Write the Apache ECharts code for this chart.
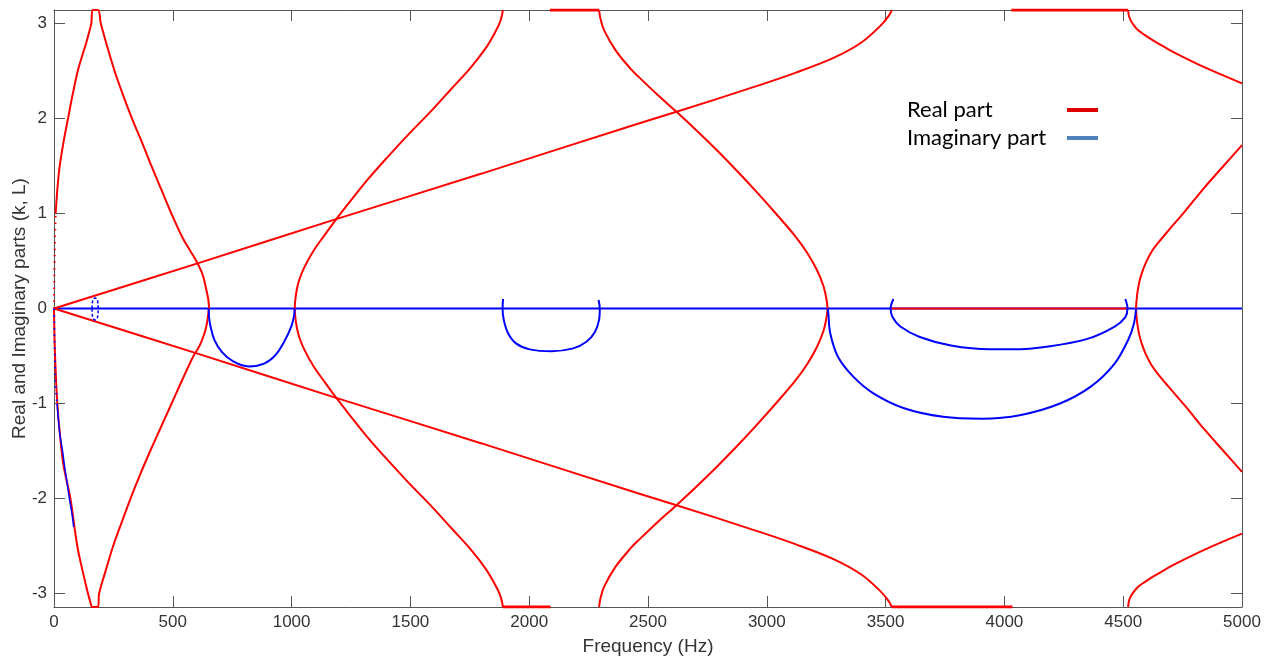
<!DOCTYPE html>
<html>
<head>
<meta charset="utf-8">
<script src="https://cdn.jsdelivr.net/npm/echarts@6/dist/echarts.min.js"></script>
<style>
  html, body { margin: 0; padding: 0; background: #fff; }
  #chart { width: 1274px; height: 657px; }
</style>
</head>
<body>
<div id="chart"></div>
<script>
// Dispersion of the periodic line: real and imaginary parts of k·L versus frequency.
const PI = Math.PI;

// Tick labels
const xTicks = [0, 500, 1000, 1500, 2000, 2500, 3000, 3500, 4000, 4500, 5000];
const yTicks = [-3, -2, -1, 0, 1, 2, 3];

// ---- Real part branches (frequency in Hz, value in rad) ----
// first band, positive branch: sparse start near 0 Hz, then rise, edge at +pi, fall back to 0
const reA1HeadFreq = [0, 1, 3, 7];
const reA1HeadVal  = [0, 0.3, 0.6, 1.0];
const reA1Freq = [7, 14, 24, 40, 59, 80, 100, 120, 136, 148, 157, 163, 185, 197, 225, 255, 290, 328, 370, 410, 452, 494, 540, 575, 599, 625, 641, 649, 653];
const reA1Val  = [1.0, 1.25, 1.5, 1.75, 2.0, 2.27, 2.5, 2.67, 2.8, 2.91, 3.0, PI, PI, 3.0, 2.75, 2.5, 2.25, 2.0, 1.75, 1.5, 1.25, 1.0, 0.75, 0.6, 0.5, 0.36, 0.2, 0.1, 0];
// first band, negative branch
const reA2Freq = [0, 2, 6, 14, 24, 40, 69, 98, 122, 143, 152, 162, 185, 190, 215, 249, 285, 322, 362, 405, 450, 495, 540, 587, 611, 628, 640, 647, 652];
const reA2Val  = [0, -0.3, -0.6, -1.0, -1.3, -1.65, -2.0, -2.5, -2.78, -3.0, -3.08, -PI, -PI, -3.0, -2.78, -2.5, -2.25, -2.0, -1.75, -1.5, -1.25, -1.0, -0.75, -0.5, -0.4, -0.3, -0.2, -0.1, 0];

// straight branches starting at the origin
const reB1Freq = [0, 611, 1174, 1800, 2464, 2620, 2956, 3120, 3283, 3398, 3480, 3513, 3526];
const reB1Val  = [0, 0.48, 0.93, 1.42, 1.95, 2.07, 2.34, 2.48, 2.64, 2.8, 2.98, 3.08, PI];
const reB2Freq = [0, 611, 1174, 1800, 2464, 2620, 2956, 3120, 3283, 3398, 3480, 3513, 3526];
const reB2Val  = [0, -0.48, -0.93, -1.42, -1.95, -2.07, -2.34, -2.48, -2.64, -2.8, -2.98, -3.08, -PI];

// second band (1013 Hz to 1889 Hz)
const reC1Freq = [1013, 1016, 1022, 1032, 1053, 1093, 1141, 1182, 1238, 1318, 1399, 1495, 1592, 1672, 1752, 1817, 1855, 1875, 1885, 1889];
const reC1Val  = [0, 0.1, 0.2, 0.3, 0.43, 0.61, 0.78, 0.92, 1.1, 1.35, 1.58, 1.84, 2.09, 2.31, 2.53, 2.74, 2.9, 3.0, 3.08, PI];
const reC2Freq = [1013, 1016, 1022, 1032, 1053, 1093, 1141, 1182, 1238, 1318, 1399, 1495, 1592, 1672, 1752, 1817, 1855, 1875, 1885, 1889];
const reC2Val  = [0, -0.1, -0.2, -0.3, -0.43, -0.61, -0.78, -0.92, -1.1, -1.35, -1.58, -1.84, -2.09, -2.31, -2.53, -2.74, -2.9, -3.0, -3.08, -PI];

// third band (2294 Hz to 3256 Hz)
const reD1Freq = [2294, 2300, 2315, 2363, 2428, 2464, 2540, 2620, 2710, 2792, 2874, 2956, 3038, 3120, 3169, 3210, 3238, 3251, 3256];
const reD1Val  = [PI, 3.05, 2.93, 2.72, 2.52, 2.43, 2.25, 2.07, 1.86, 1.66, 1.45, 1.23, 1.0, 0.76, 0.59, 0.41, 0.24, 0.1, 0];
const reD2Freq = [2294, 2300, 2315, 2363, 2428, 2464, 2540, 2620, 2710, 2792, 2874, 2956, 3038, 3120, 3169, 3210, 3238, 3251, 3256];
const reD2Val  = [-PI, -3.05, -2.93, -2.72, -2.52, -2.43, -2.25, -2.07, -1.86, -1.66, -1.45, -1.23, -1.0, -0.76, -0.59, -0.41, -0.24, -0.1, 0];

// fourth band, rising from 0 above 4554 Hz
const reE1Freq = [4554, 4556, 4560, 4567, 4578, 4595, 4620, 4650, 4690, 4759, 4841, 4922, 5000];
const reE1Val  = [0, 0.08, 0.17, 0.27, 0.37, 0.48, 0.6, 0.7, 0.82, 1.02, 1.27, 1.5, 1.72];
const reE2Freq = [4554, 4556, 4560, 4567, 4578, 4595, 4620, 4650, 4690, 4759, 4841, 4922, 5000];
const reE2Val  = [0, -0.08, -0.17, -0.27, -0.37, -0.48, -0.6, -0.7, -0.82, -1.02, -1.27, -1.5, -1.72];

// fourth band, leaving the +/-pi edge at 4521 Hz
const reF1Freq = [4521, 4524, 4532, 4545, 4562, 4590, 4627, 4675, 4726, 4841, 5000];
const reF1Val  = [PI, 3.08, 3.03, 2.98, 2.93, 2.88, 2.82, 2.75, 2.68, 2.54, 2.37];
const reF2Freq = [4521, 4524, 4532, 4545, 4562, 4590, 4627, 4675, 4726, 4841, 5000];
const reF2Val  = [-PI, -3.08, -3.03, -2.98, -2.93, -2.88, -2.82, -2.75, -2.68, -2.54, -2.37];

// flat stretches inside the stop bands
const reFlatTop1Freq = [2087, 2294];   const reFlatTop1Val = [PI, PI];
const reFlatTop2Freq = [4029, 4521];   const reFlatTop2Val = [PI, PI];
const reFlatBot1Freq = [1889, 2090];   const reFlatBot1Val = [-PI, -PI];
const reFlatBot2Freq = [3526, 4034];   const reFlatBot2Val = [-PI, -PI];
const reFlatMidFreq  = [3521, 4521];   const reFlatMidVal  = [0, 0];

// ---- Imaginary part branches ----
const imZeroFreq = [0, 5000];
const imZeroVal  = [0, 0];

// sparse start near 0 Hz, then the denser part
const imOriginHeadFreq = [0, 1, 3, 7, 13];
const imOriginHeadVal  = [0, -0.12, -0.44, -0.79, -1.0];
const imOriginFreq = [13, 24, 36, 45, 56, 66, 75, 83];
const imOriginVal  = [-1.0, -1.31, -1.5, -1.67, -1.85, -2.02, -2.15, -2.3];

const imLoop1Freq = [160, 162, 166, 173, 180, 184, 186, 184, 180, 173, 166, 162, 160];
const imLoop1Val  = [0, 0.07, 0.1, 0.11, 0.1, 0.07, 0, -0.08, -0.11, -0.12, -0.11, -0.08, 0];

const imArc1Freq = [651, 653, 659, 675, 707, 756, 820, 884, 932, 973, 1000, 1010, 1013];
const imArc1Val  = [0, -0.1, -0.19, -0.33, -0.46, -0.56, -0.61, -0.58, -0.49, -0.33, -0.18, -0.08, 0];

const imArc2Freq = [1890, 1888, 1893, 1911, 1946, 2002, 2094, 2185, 2241, 2276, 2294, 2297, 2292];
const imArc2Val  = [0.1, 0, -0.12, -0.26, -0.37, -0.43, -0.45, -0.42, -0.35, -0.25, -0.12, 0, 0.09];

const imArc3Freq = [3256, 3259, 3267, 3300, 3365, 3447, 3578, 3742, 3906, 4070, 4234, 4365, 4464, 4521, 4545, 4554];
const imArc3Val  = [0, -0.05, -0.26, -0.51, -0.72, -0.89, -1.05, -1.14, -1.16, -1.12, -1.0, -0.82, -0.58, -0.33, -0.16, 0];

const imArc4Freq = [3533, 3521, 3529, 3562, 3644, 3775, 3939, 4037, 4185, 4349, 4464, 4509, 4518, 4509];
const imArc4Val  = [0.1, 0, -0.09, -0.19, -0.3, -0.39, -0.43, -0.43, -0.4, -0.32, -0.19, -0.09, 0, 0.1];

const RED = '#ff0000';
const BLUE = '#0000ff';

function pairs(fs, vs) { return fs.map((f, i) => [f, vs[i]]); }

function curve(name, color, fs, vs, opts) {
  const o = opts || {};
  return {
    name: name,
    type: 'line',
    data: pairs(fs, vs),
    showSymbol: false,
    symbol: 'none',
    smooth: o.smooth === undefined ? 0.35 : o.smooth,
    silent: true,
    animation: false,
    clip: true,
    lineStyle: { color: color, width: o.width || 2, type: o.dash || 'solid' },
    itemStyle: { color: color }
  };
}

const RE = 'Real part';
const IM = 'Imaginary part';
const flat = { smooth: false, width: 3 };
const sparse = { width: 2, dash: [1.5, 5], smooth: 0.3 };

const series = [
  curve(IM, BLUE, imZeroFreq, imZeroVal, { smooth: false }),
  curve(RE, RED, reA1HeadFreq, reA1HeadVal, sparse),
  curve(RE, RED, reA1Freq, reA1Val),
  curve(RE, RED, reA2Freq, reA2Val),
  curve(RE, RED, reB1Freq, reB1Val),
  curve(RE, RED, reB2Freq, reB2Val),
  curve(RE, RED, reC1Freq, reC1Val),
  curve(RE, RED, reC2Freq, reC2Val),
  curve(RE, RED, reD1Freq, reD1Val),
  curve(RE, RED, reD2Freq, reD2Val),
  curve(RE, RED, reE1Freq, reE1Val),
  curve(RE, RED, reE2Freq, reE2Val),
  curve(RE, RED, reF1Freq, reF1Val),
  curve(RE, RED, reF2Freq, reF2Val),
  curve(RE, RED, reFlatTop1Freq, reFlatTop1Val, flat),
  curve(RE, RED, reFlatTop2Freq, reFlatTop2Val, flat),
  curve(RE, RED, reFlatBot1Freq, reFlatBot1Val, flat),
  curve(RE, RED, reFlatBot2Freq, reFlatBot2Val, flat),
  curve(RE, RED, reFlatMidFreq, reFlatMidVal, { smooth: false }),
  curve(IM, BLUE, imOriginHeadFreq, imOriginHeadVal, sparse),
  curve(IM, BLUE, imOriginFreq, imOriginVal, { width: 1.5 }),
  curve(IM, BLUE, imLoop1Freq, imLoop1Val, { width: 1.5, dash: [3, 2] }),
  curve(IM, BLUE, imArc1Freq, imArc1Val),
  curve(IM, BLUE, imArc2Freq, imArc2Val),
  curve(IM, BLUE, imArc3Freq, imArc3Val),
  curve(IM, BLUE, imArc4Freq, imArc4Val)
];

const AXIS_COLOR = '#555';
const LABEL_COLOR = '#333';
const FONT = '"Liberation Sans", Arial, Helvetica, sans-serif';

function xAxisDef(pos, showLabels) {
  return {
    type: 'value', position: pos, min: 0, max: 5000, interval: 500,
    axisLine: { show: true, onZero: false, lineStyle: { color: AXIS_COLOR, width: 1 } },
    axisTick: { show: true, inside: true, length: 11, lineStyle: { color: AXIS_COLOR } },
    axisLabel: { show: showLabels, color: LABEL_COLOR, fontSize: 17, fontFamily: FONT, margin: 7,
                 customValues: xTicks, formatter: v => String(v) },
    splitLine: { show: false },
    name: showLabels ? 'Frequency (Hz)' : '',
    nameLocation: 'middle', nameGap: 30, nameMoveOverlap: false,
    nameTextStyle: { color: LABEL_COLOR, fontSize: 19, fontFamily: FONT }
  };
}

function yAxisDef(pos, showLabels) {
  return {
    type: 'value', position: pos, min: -PI, max: PI,
    axisLine: { show: true, onZero: false, lineStyle: { color: AXIS_COLOR, width: 1 } },
    axisTick: { show: true, inside: true, length: 11, customValues: yTicks, lineStyle: { color: AXIS_COLOR } },
    axisLabel: { show: showLabels, color: LABEL_COLOR, fontSize: 17, fontFamily: FONT, margin: 7,
                 customValues: yTicks, formatter: v => String(v) },
    splitLine: { show: false },
    name: showLabels ? 'Real and Imaginary parts (k, L)' : '',
    nameLocation: 'middle', nameGap: 25, nameRotate: 90, nameMoveOverlap: false,
    nameTextStyle: { color: LABEL_COLOR, fontSize: 19, fontFamily: FONT }
  };
}

const chart = echarts.init(document.getElementById('chart'), null, { renderer: 'canvas' });
chart.setOption({
  backgroundColor: '#fff',
  animation: false,
  grid: { left: 54, right: 32, top: 10, bottom: 50, containLabel: false, outerBoundsMode: 'none' },
  xAxis: [xAxisDef('bottom', true), xAxisDef('top', false)],
  yAxis: [yAxisDef('left', true), yAxisDef('right', false)],
  legend: {
    orient: 'vertical', left: 907, top: 99, padding: 0,
    align: 'right', icon: 'rect', itemWidth: 31, itemHeight: 4, itemGap: 6,
    selectedMode: false,
    formatter: '{t|{name}}',
    textStyle: {
      color: '#000',
      rich: { t: { fontFamily: 'Lato, "Open Sans", sans-serif', fontSize: 22, color: '#000', width: 155, align: 'left', lineHeight: 24 } }
    },
    data: [
      { name: RE, itemStyle: { color: '#e00000' } },
      { name: IM, itemStyle: { color: '#4f81bd' } }
    ]
  },
  series: series
});
</script>
</body>
</html>
